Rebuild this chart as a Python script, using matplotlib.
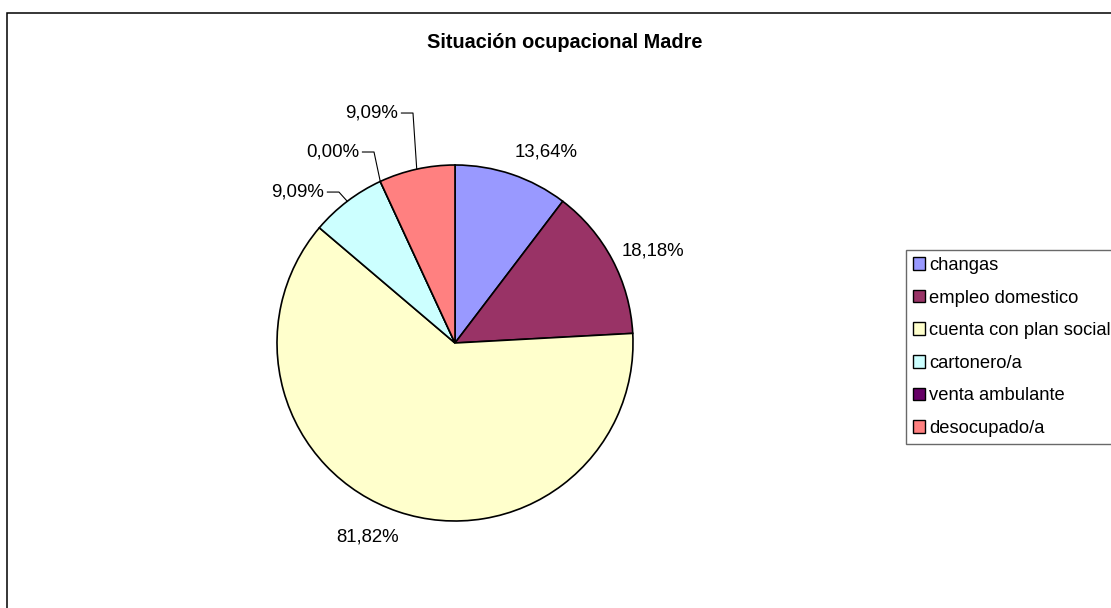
import numpy as np
import matplotlib
matplotlib.use('Agg')
import matplotlib.pyplot as plt
from matplotlib.patches import Rectangle

plt.rcParams['font.family'] = ['Liberation Sans', 'DejaVu Sans']

# data
categorias = ['changas', 'empleo domestico', 'cuenta con plan social',
              'cartonero/a', 'venta ambulante', 'desocupado/a']
valores = [13.64, 18.18, 81.82, 9.09, 0.00, 9.09]
colores = ['#9999FF', '#993366', '#FFFFCC', '#CCFFFF', '#660066', '#FF8080']
etiquetas = ['{:.2f}%'.format(v).replace('.', ',') for v in valores]

# label placement (data units, pie radius = 1) and whether a leader line is drawn
lbl_pos = [(0.514, 1.073), (1.112, 0.517), (-0.494, -1.090),
           (-0.882, 0.848), (-0.685, 1.073), (-0.466, 1.292)]
leader = [False, False, False, True, True, True]

W, H = 1111, 608
fig = plt.figure(figsize=(W / 100, H / 100), dpi=100)

# outer chart frame (right/bottom edges fall outside the image)
fig.patches.append(Rectangle((7 / W, -0.1), 1.2, (H - 13) / H + 0.1,
                             transform=fig.transFigure, fill=False,
                             edgecolor='black', linewidth=1.1))

cx, cy, R = 455, 343, 178
ax = fig.add_axes([(cx - R) / W, (H - cy - R) / H, 2 * R / W, 2 * R / H])
wedges, _ = ax.pie(valores, colors=colores, startangle=90, counterclock=False,
                   wedgeprops=dict(edgecolor='black', linewidth=1.2))
ax.set_xlim(-1, 1)
ax.set_ylim(-1, 1)
ax.set_aspect('equal')
ax.axis('off')

for w, txt, (tx, ty), ld in zip(wedges, etiquetas, lbl_pos, leader):
    ax.text(tx, ty, txt, ha='center', va='center', fontsize=13.4, clip_on=False)
    if ld:
        mid = np.deg2rad((w.theta1 + w.theta2) / 2)
        ex, ey = np.cos(mid), np.sin(mid)
        x0 = tx + 0.165
        ax.plot([x0, x0 + 0.065, ex], [ty, ty, ey], color='black', lw=0.8,
                clip_on=False)

fig.text(564.5 / W, 1 - 43 / H, 'Situación ocupacional Madre', ha='center',
         va='center', fontsize=14.3, fontweight='bold')

leg = fig.legend(wedges, categorias, loc='upper left',
                 bbox_to_anchor=(906 / W, 1 - 250 / H), fontsize=13.2,
                 frameon=True, fancybox=False, edgecolor='#444444',
                 handlelength=0.68, handleheight=0.68, handletextpad=0.2,
                 labelspacing=0.85, borderpad=0.38, borderaxespad=0)
leg.get_frame().set_linewidth(1.0)
for h in leg.legend_handles:
    h.set_linewidth(1.0)

fig.savefig('out.png', dpi=100)
